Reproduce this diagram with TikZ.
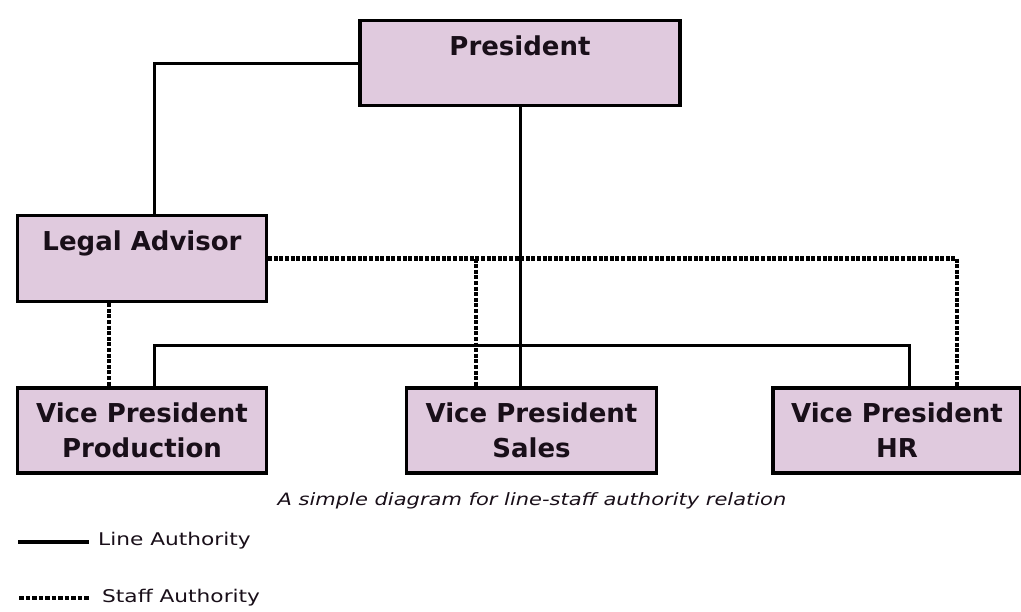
\documentclass[tikz,border=0pt]{standalone}
\usepackage{fontspec}
\setmainfont{DejaVu Sans}
\usepackage{graphicx}
\definecolor{boxfill}{RGB}{224,202,222}
\definecolor{ink}{RGB}{25,15,25}
\tikzset{
  orgbox/.style={draw=black, line width=3.5pt, fill=boxfill, rectangle, align=center,
    text=ink, font=\bfseries\fontsize{26}{35}\selectfont, inner sep=0pt},
  lineauth/.style={line width=3pt, black},
  staffauth/.style={line width=4.5pt, black, dash pattern=on 4pt off 1.6pt},
  legtext/.style={font=\fontsize{17.5}{20}\selectfont, text=ink, anchor=base west, inner sep=0pt},
}
\begin{document}
\begin{tikzpicture}[x=1pt,y=-1pt]
\useasboundingbox (0,0) rectangle (1021,611);
\fill[white] (0,0) rectangle (1021,611);
% boxes
\node[orgbox, minimum width=320, minimum height=85] (pres) at (520,63) {President\\\mbox{}};
\node[orgbox, minimum width=249, minimum height=86] (legal) at (142,258.5) {Legal Advisor\\\mbox{}};
\node[orgbox, minimum width=249, minimum height=85] (prod) at (142,430.5) {Vice President\\Production};
\node[orgbox, minimum width=250, minimum height=85] (sales) at (531.5,430.5) {Vice President\\Sales};
\node[orgbox, minimum width=248, minimum height=85] (hr) at (897,430.5) {Vice President\\HR};
% line authority
\coordinate (bus) at (0,345);
\draw[lineauth] (pres.west) -| ([xshift=12pt]legal.north);
\draw[lineauth] (pres.south) -- (pres.south |- sales.north);
\draw[lineauth] ([xshift=12pt]prod.north) |- (bus -| hr.north) -| ([xshift=12pt]hr.north);
% staff authority
\draw[staffauth] (legal.east) -| ([xshift=60pt]hr.north);
\draw[staffauth] ([xshift=-55.5pt]sales.north |- legal.east) -- ([xshift=-55.5pt]sales.north);
\draw[staffauth] ([xshift=-33pt]legal.south) -- ([xshift=-33pt]prod.north);
% caption
\node[font=\itshape\fontsize{17}{20}\selectfont, text=ink, anchor=base, inner sep=0pt] (cap) at (532,505)
  {\scalebox{1.235}[1]{A simple diagram for line-staff authority relation}};
% legend
\coordinate (l1a) at (18,542);
\coordinate (l1b) at (89,542);
\draw[line width=4.5pt, black] (l1a) -- (l1b);
\node[legtext] (ltext) at (98,545) {\scalebox{1.24}[1]{Line Authority}};
\coordinate (l2a) at (19,598);
\coordinate (l2b) at (89,598);
\draw[line width=4.5pt, black, dash pattern=on 4.5pt off 2pt] (l2a) -- (l2b);
\node[legtext] (stext) at (102,602) {\scalebox{1.24}[1]{Staff Authority}};
\end{tikzpicture}
\end{document}
